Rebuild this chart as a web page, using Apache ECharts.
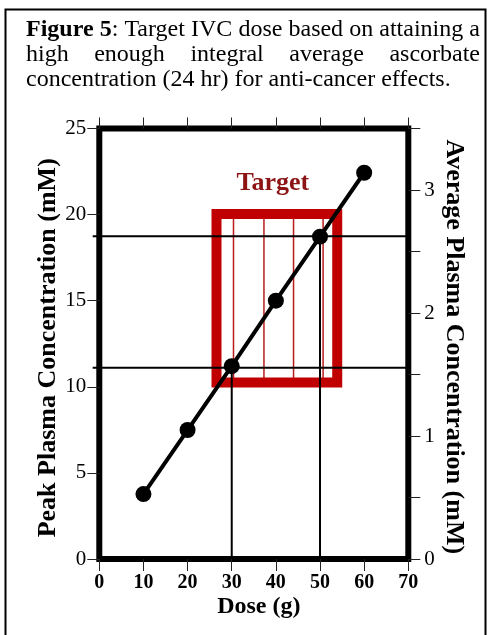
<!DOCTYPE html>
<html><head><meta charset="utf-8">
<script src="https://cdn.jsdelivr.net/npm/echarts@6/dist/echarts.min.js"></script>
<style>html,body{margin:0;padding:0;background:#fff}#c{width:490px;height:635px}</style>
</head><body><div id="c"></div>
<script>
const doses = [10, 20, 30, 40, 50, 60];
const peakConc = [3.77, 7.49, 11.2, 15.0, 18.72, 22.43];
const targetDose = [26.55, 53.9];
const targetConc = [10.25, 20.03];
const targetInnerLines = [30.4, 37.3, 44.0, 50.7];
const refDose = [30, 50];
const refConc = [11.1, 18.75];
const titleLine1 = [[['Figure', 1]], [['5', 1], [':', 0]], [['Target', 0]], [['IVC', 0]], [['dose', 0]], [['based', 0]], [['on', 0]], [['attaining', 0]], [['a', 0]]];
const titleLine2 = ['high', 'enough', 'integral', 'average', 'ascorbate'];
const titleLine3 = 'concentration (24 hr) for anti-cancer effects.';
const xLabel = 'Dose (g)';
const leftLabel = 'Peak Plasma Concentration (mM)';
const rightLabel = 'Average Plasma Concentration (mM)';
const targetText = 'Target';

const FONT = '"Liberation Serif","Times New Roman",serif';
const TS = 24;
const ctx = document.createElement('canvas').getContext('2d');
function tw(t, bold) { ctx.font = (bold ? 'bold ' : '') + TS + 'px ' + FONT; return ctx.measureText(t).width; }

const chart = echarts.init(document.getElementById('c'), null, {renderer: 'canvas'});

const graphics = [];
graphics.push({type: 'rect', silent: true, shape: {x: 5.5, y: 9.5, width: 480, height: 700},
  style: {fill: 'none', stroke: '#000', lineWidth: 2}});
const rich = {b: {fontWeight: 'bold', fontSize: TS, fontFamily: FONT}};
function justify(words, y, L, R) {
  const widths = words.map(w => w.reduce((s, seg) => s + tw(seg[0], seg[1]), 0));
  const total = widths.reduce((a, b) => a + b, 0);
  const gap = (R - L - total) / (words.length - 1);
  let x = L;
  words.forEach((w, i) => {
    const txt = w.map(seg => seg[1] ? '{b|' + seg[0] + '}' : seg[0]).join('');
    graphics.push({type: 'text', x: x, y: y, style: {text: txt, font: TS + 'px ' + FONT, fill: '#000', rich: rich, verticalAlign: 'top'}});
    x += widths[i] + gap;
  });
}
justify(titleLine1, 17.5, 26, 480);
justify(titleLine2.map(t => [[t, 0]]), 42.5, 26, 480);
graphics.push({type: 'text', x: 26, y: 68, style: {text: titleLine3, font: TS + 'px ' + FONT, fill: '#000', verticalAlign: 'top'}});

const axisCommon = {
  nameMoveOverlap: false,
  axisLine: {show: true, onZero: false, lineStyle: {color: '#000', width: 1}},
  axisTick: {show: true, length: 12, lineStyle: {color: '#222', width: 1}},
  splitLine: {show: false}
};

const option = {
  animation: false,
  backgroundColor: '#fff',
  textStyle: {fontFamily: FONT},
  grid: {left: 99.3, right: 81.7, top: 128.5, bottom: 76, show: true, borderColor: '#000', borderWidth: 6,
    backgroundColor: 'transparent', containLabel: false, outerBoundsMode: 'none'},
  graphic: graphics,
  xAxis: [
    Object.assign({type: 'value', position: 'bottom', min: 0, max: 70, interval: 10,
      axisLabel: {fontSize: 20, fontWeight: 'bold', color: '#000', margin: 14, fontFamily: FONT},
      name: xLabel, nameLocation: 'middle', nameGap: 36,
      nameTextStyle: {fontSize: 24, fontWeight: 'bold', color: '#000', fontFamily: FONT, padding: [0, 0, 0, 10]}}, axisCommon),
    Object.assign({type: 'value', position: 'top', min: 0, max: 70, interval: 10,
      axisLabel: {show: false}}, axisCommon, {axisTick: {show: true, length: 11, lineStyle: {color: '#222', width: 1}}})
  ],
  yAxis: [
    Object.assign({type: 'value', position: 'left', min: 0, max: 25, interval: 5,
      axisLabel: {fontSize: 21, color: '#000', margin: 13, fontFamily: FONT},
      name: leftLabel, nameLocation: 'middle', nameGap: 38,
      nameTextStyle: {fontSize: 26, fontWeight: 'bold', color: '#000', fontFamily: FONT, padding: [0, 8, 0, 0]}}, axisCommon),
    Object.assign({type: 'value', position: 'right', min: 0, max: 3.5, interval: 0.5,
      axisLabel: {fontSize: 21, color: '#000', margin: 16, fontFamily: FONT,
        formatter: v => (Math.abs(v - Math.round(v)) < 1e-9 ? String(Math.round(v)) : '')},
      name: rightLabel, nameLocation: 'middle', nameGap: 32, nameRotate: -90,
      nameTextStyle: {fontSize: 26, fontWeight: 'bold', color: '#000', fontFamily: FONT, padding: [0, 0, 0, 6]}}, axisCommon)
  ],
  series: [
    {type: 'custom', xAxisIndex: 0, yAxisIndex: 0, silent: true, z: 2,
      data: targetInnerLines.map(x => [x, targetConc[0]]),
      renderItem: (p, api) => {
        const a = api.coord([api.value(0), targetConc[0]]);
        const b = api.coord([api.value(0), targetConc[1]]);
        return {type: 'line', shape: {x1: a[0], y1: a[1], x2: b[0], y2: b[1]},
          style: {stroke: '#b81c1c', lineWidth: 1.5}};
      }},
    {type: 'custom', xAxisIndex: 0, yAxisIndex: 0, silent: true, z: 3,
      data: [[targetDose[0], targetConc[0]]],
      renderItem: (p, api) => {
        const a = api.coord([targetDose[0], targetConc[1]]);
        const b = api.coord([targetDose[1], targetConc[0]]);
        const mid = api.coord([(targetDose[0] + targetDose[1]) / 2, targetConc[1]]);
        return {type: 'group', children: [
          {type: 'rect', shape: {x: a[0], y: a[1], width: b[0] - a[0], height: b[1] - a[1]},
            style: {fill: 'none', stroke: '#c00000', lineWidth: 10}},
          {type: 'text', x: mid[0] - 4, y: mid[1] - 31, style: {text: targetText, fill: '#8c1414',
            font: 'bold 26px ' + FONT, align: 'center', verticalAlign: 'middle'}}
        ]};
      }},
    {type: 'custom', xAxisIndex: 0, yAxisIndex: 0, silent: true, z: 4,
      data: refDose.map((d, i) => [d, refConc[i]]),
      renderItem: (p, api) => {
        const d = api.value(0), c = api.value(1);
        const h1 = api.coord([-1.5, c]), h2 = api.coord([70, c]);
        const v1 = api.coord([d, c]), v2 = api.coord([d, 0]);
        return {type: 'group', children: [
          {type: 'line', shape: {x1: h1[0], y1: h1[1], x2: h2[0], y2: h2[1]}, style: {stroke: '#000', lineWidth: 2}},
          {type: 'line', shape: {x1: v1[0], y1: v1[1], x2: v2[0], y2: v2[1]}, style: {stroke: '#000', lineWidth: 2}}
        ]};
      }},
    {type: 'line', xAxisIndex: 0, yAxisIndex: 0, z: 5,
      data: doses.map((d, i) => [d, peakConc[i]]),
      symbol: 'circle', symbolSize: 16,
      lineStyle: {color: '#000', width: 4},
      itemStyle: {color: '#000'}}
  ]
};
chart.setOption(option);
</script>
</body></html>
